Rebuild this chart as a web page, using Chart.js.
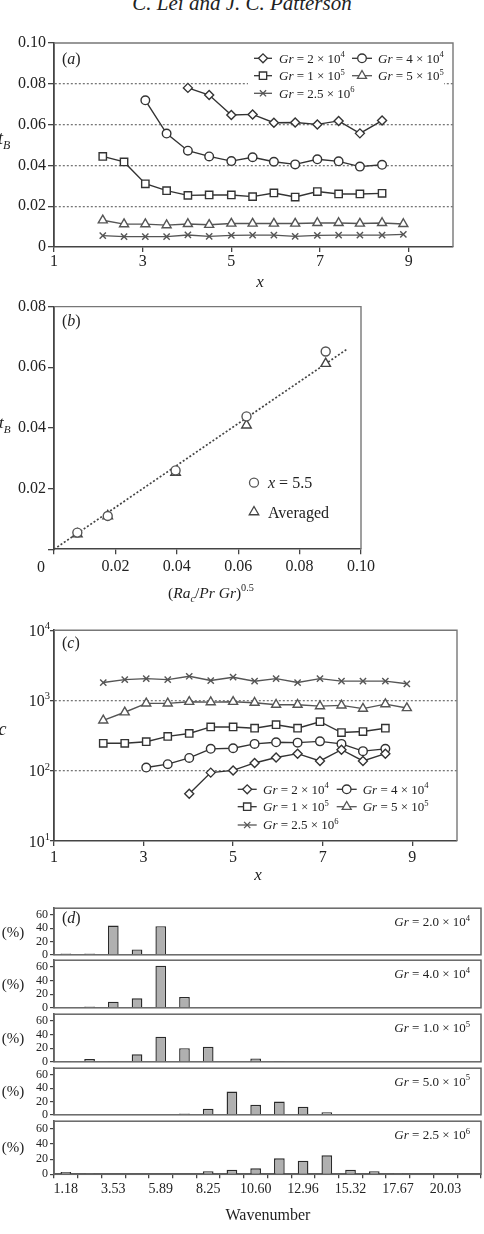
<!DOCTYPE html>
<html>
<head>
<meta charset="utf-8">
<script src="https://cdn.jsdelivr.net/npm/chart.js@4.4.1/dist/chart.umd.min.js"></script>
<style>
html, body { margin: 0; padding: 0; background: #fff; }
body { position: relative; width: 484px; height: 1234px; overflow: hidden; }
#hdr { position: absolute; left: 0; top: -7px; width: 484px; text-align: center; font: italic 21px "Liberation Serif", serif; line-height: 21px; color: #222; }
canvas { position: absolute; left: 0; }
</style>
</head>
<body>
<div id="hdr">C. Lei and J. C. Patterson</div>
<script>
// ---------- data ----------
// streamwise positions shared by panels (a) and (c)
const xPos = [2.1, 2.58, 3.06, 3.54, 4.02, 4.5, 5.0, 5.48, 5.96, 6.44, 6.94, 7.42, 7.9, 8.4, 8.88];

// (a) t_B
const tB_gr2e4  = [null, null, null, null, 0.078, 0.0745, 0.0647, 0.065, 0.0609, 0.061, 0.0601, 0.0618, 0.0557, 0.062, null];
const tB_gr4e4  = [null, null, 0.0719, 0.0556, 0.0472, 0.0444, 0.0421, 0.044, 0.0418, 0.0405, 0.043, 0.042, 0.0394, 0.0403, null];
const tB_gr1e5  = [0.0444, 0.0417, 0.031, 0.0276, 0.0253, 0.0255, 0.0255, 0.0247, 0.0265, 0.0245, 0.0272, 0.026, 0.026, 0.0263, null];
const tB_gr5e5  = [0.0131, 0.0112, 0.0112, 0.0107, 0.0113, 0.0109, 0.0115, 0.0115, 0.0115, 0.0115, 0.0118, 0.0118, 0.0115, 0.0118, 0.0113];
const tB_gr25e6 = [0.0056, 0.0051, 0.0051, 0.0051, 0.0059, 0.0052, 0.0057, 0.0058, 0.0058, 0.0052, 0.0057, 0.0058, 0.0058, 0.0058, 0.0062];

// (b) t_B against (Ra_c/Pr Gr)^0.5
const bX     = [0.0076, 0.0175, 0.0396, 0.0627, 0.0885];
const tB_x55 = [0.0055, 0.011, 0.026, 0.0438, 0.0652];
const tB_avg = [0.005, 0.011, 0.0253, 0.0409, 0.0612];
const fitX   = [0, 0.0955];
const fitY   = [0, 0.066];

// (c) c (log)
const c_gr2e4  = [null, null, null, null, 47, 94, 101, 129, 154, 175, 138, 199, 138, 175, null];
const c_gr4e4  = [null, null, 111, 124, 152, 205, 209, 241, 254, 251, 262, 241, 190, 205, null];
const c_gr1e5  = [246, 246, 259, 308, 339, 420, 420, 403, 452, 403, 498, 350, 361, 403, null];
const c_gr5e5  = [521, 680, 908, 908, 959, 947, 959, 929, 871, 871, 832, 851, 766, 888, 781];
const c_gr25e6 = [1800, 1982, 2047, 1982, 2210, 1920, 2142, 1882, 2047, 1800, 2047, 1882, 1882, 1882, 1727];

// (d) wavenumber histograms (%)
const wavenumbers = ['1.18', '2.36', '3.53', '4.71', '5.89', '7.07', '8.25', '9.42', '10.60', '11.78', '12.96', '14.14', '15.32', '16.49', '17.67', '18.85', '20.03', '21.20'];
const pct_gr2e4  = [2, 2, 44, 8, 43, 0, 0, 0, 0, 0, 0, 0, 0, 0, 0, 0, 0, 0];
const pct_gr4e4  = [0, 2, 9, 14, 62, 16, 0, 0, 0, 0, 0, 0, 0, 0, 0, 0, 0, 0];
const pct_gr1e5  = [1, 4, 1, 11, 37, 20, 22, 0, 5, 1, 0, 0, 0, 0, 0, 0, 0, 0];
const pct_gr5e5  = [0, 0, 0, 0, 0, 2, 9, 35, 15, 20, 12, 4, 0, 0, 0, 0, 0, 0];
const pct_gr25e6 = [3, 1, 0, 0, 0, 0, 4, 6, 8, 21, 18, 25, 6, 4, 1, 0, 0, 0];

// tick values
const ticksA_x = [1, 3, 5, 7, 9];
const ticksA_y = [0, 0.02, 0.04, 0.06, 0.08, 0.1];
const ticksB_x = [0, 0.02, 0.04, 0.06, 0.08, 0.1];
const ticksB_y = [0, 0.02, 0.04, 0.06, 0.08];
const ticksC_y = [10, 100, 1000, 10000];
const ticksD_y = [0, 20, 40, 60];

// legend / annotation text
const grLabels = [
    [['Gr', 'i'], [' = 2 × 10'], ['4', '^']],
    [['Gr', 'i'], [' = 4 × 10'], ['4', '^']],
    [['Gr', 'i'], [' = 1 × 10'], ['5', '^']],
    [['Gr', 'i'], [' = 5 × 10'], ['5', '^']],
    [['Gr', 'i'], [' = 2.5 × 10'], ['6', '^']]
];
const grLabelsD = [
    [['Gr', 'i'], [' = 2.0 × 10'], ['4', '^']],
    [['Gr', 'i'], [' = 4.0 × 10'], ['4', '^']],
    [['Gr', 'i'], [' = 1.0 × 10'], ['5', '^']],
    [['Gr', 'i'], [' = 5.0 × 10'], ['5', '^']],
    [['Gr', 'i'], [' = 2.5 × 10'], ['6', '^']]
];

// ---------- helpers ----------
const SERIF = '"Liberation Serif", "DejaVu Serif", serif';
Chart.defaults.font.family = SERIF;
Chart.defaults.color = '#222';
Chart.defaults.animation = false;
Chart.defaults.plugins.legend.display = false;
Chart.defaults.plugins.tooltip.enabled = false;

function fnt(size, italic) {
    return (italic ? 'italic ' : '') + size + 'px ' + SERIF;
}

// parts: [text, flags] with flags 'i' italic, '^' superscript, '_' subscript
function rich(ctx, x, y, parts, size, align) {
    ctx.save();
    ctx.textAlign = 'left';
    ctx.textBaseline = 'alphabetic';
    ctx.fillStyle = '#222';
    const seg = parts.map(p => {
        const f = p[1] || '';
        const small = f.includes('^') || f.includes('_');
        const font = fnt(small ? size * 0.66 : size, f.includes('i'));
        ctx.font = font;
        return {
            t: p[0], font: font, w: ctx.measureText(p[0]).width,
            dy: f.includes('^') ? -size * 0.42 : (f.includes('_') ? size * 0.28 : 0)
        };
    });
    const total = seg.reduce((a, s) => a + s.w, 0);
    let cx = align === 'right' ? x - total : (align === 'center' ? x - total / 2 : x);
    seg.forEach(s => {
        ctx.font = s.font;
        ctx.fillText(s.t, cx, y + s.dy);
        cx += s.w;
    });
    ctx.restore();
}

function makeCanvas(top, height) {
    const c = document.createElement('canvas');
    c.width = 484;
    c.height = height;
    c.style.top = top + 'px';
    c.style.width = '484px';
    c.style.height = height + 'px';
    document.body.appendChild(c);
    return c;
}

function frameTR(chart) {
    const { ctx, chartArea: a } = chart;
    ctx.save();
    ctx.strokeStyle = '#777';
    ctx.lineWidth = 1.4;
    ctx.beginPath();
    ctx.moveTo(a.left, a.top);
    ctx.lineTo(a.right, a.top);
    ctx.lineTo(a.right, a.bottom);
    ctx.stroke();
    ctx.restore();
}

function marker(ctx, style, r, color, x, y) {
    ctx.save();
    ctx.fillStyle = '#fff';
    ctx.strokeStyle = color;
    ctx.lineWidth = 1.3;
    Chart.helpers.drawPoint(ctx, { pointStyle: style, radius: r, rotation: 0, borderWidth: 1.3 }, x, y);
    ctx.restore();
}

const styles = [
    { ps: 'rectRot', r: 4.5, color: '#333' },
    { ps: 'circle', r: 4.3, color: '#333' },
    { ps: 'rect', r: 5.2, color: '#333' },
    { ps: 'triangle', r: 5.2, color: '#555' },
    { ps: 'crossRot', r: 4.4, color: '#555' }
];

function series(vals, k) {
    const s = styles[k];
    return {
        data: xPos.map((x, i) => ({ x: x, y: vals[i] })).filter(p => p.y !== null),
        pointStyle: s.ps, pointRadius: s.r,
        pointBackgroundColor: '#fff', pointBorderColor: s.color, pointBorderWidth: 1.4,
        borderColor: s.color, borderWidth: 1.4, tension: 0, fill: false
    };
}

function drawLegend(ctx, T, x1s, x2s, txs, rows, size) {
    grLabels.forEach((lab, i) => {
        const col = i % 2, row = Math.floor(i / 2);
        const y = rows[row] - T;
        const s = styles[i];
        ctx.save();
        ctx.strokeStyle = s.color;
        ctx.lineWidth = 1.3;
        ctx.beginPath();
        ctx.moveTo(x1s[col], y);
        ctx.lineTo(x2s[col], y);
        ctx.stroke();
        ctx.restore();
        marker(ctx, s.ps, s.r, s.color, (x1s[col] + x2s[col]) / 2, y);
        rich(ctx, txs[col], y + size * 0.33, lab, size, 'left');
    });
}

function fixedTicks(vals) {
    return s => { s.ticks = vals.map(v => ({ value: v })); };
}

// ---------- (a) ----------
(function () {
    const T = 30;
    const canvas = makeCanvas(T, 265);
    new Chart(canvas, {
        type: 'line',
        data: { datasets: [series(tB_gr2e4, 0), series(tB_gr4e4, 1), series(tB_gr1e5, 2), series(tB_gr5e5, 3), series(tB_gr25e6, 4)] },
        options: {
            responsive: false, devicePixelRatio: 1,
            layout: { padding: { top: 13, right: 31, left: 0, bottom: 0 } },
            scales: {
                x: {
                    type: 'linear', min: 1, max: 10,
                    afterBuildTicks: fixedTicks(ticksA_x),
                    afterFit: s => { s.height = 48; },
                    ticks: { font: { size: 16 }, padding: 0, maxRotation: 0, autoSkip: false },
                    grid: { drawOnChartArea: false, tickLength: 5, tickColor: '#444', lineWidth: 1.3 },
                    border: { color: '#444', width: 1.6 }
                },
                y: {
                    type: 'linear', min: 0, max: 0.1,
                    afterBuildTicks: fixedTicks(ticksA_y),
                    afterFit: s => { s.width = 54; },
                    ticks: { font: { size: 16 }, padding: 2, autoSkip: false, callback: v => v === 0 ? '0' : v.toFixed(2) },
                    grid: {
                        color: c => (c.tick && c.tick.value > 0.001 && c.tick.value < 0.099) ? '#777' : 'rgba(0,0,0,0)',
                        lineWidth: 1.3, tickLength: 6, tickColor: '#444'
                    },
                    border: { color: '#444', width: 1.8, dash: [2, 2] }
                }
            }
        },
        plugins: [{
            id: 'decoA',
            beforeDatasetsDraw(chart) {
                frameTR(chart);
                const ctx = chart.ctx;
                ctx.save();
                ctx.fillStyle = '#fff';
                ctx.fillRect(248, 48 - T, 196, 54);
                ctx.restore();
            },
            afterDraw(chart) {
                const ctx = chart.ctx;
                rich(ctx, 62, 64 - T, [['('], ['a', 'i'], [')']], 16, 'left');
                rich(ctx, -2, 144 - T, [['t', 'i'], ['B', '_i']], 18, 'left');
                rich(ctx, 260, 287 - T, [['x', 'i']], 17, 'center');
                drawLegend(ctx, T, [254, 352], [272, 372], [279, 378], [58.3, 75.7, 93.3], 13);
            }
        }]
    });
})();

// ---------- (b) ----------
(function () {
    const T = 295;
    const canvas = makeCanvas(T, 310);
    new Chart(canvas, {
        type: 'line',
        data: {
            datasets: [
                {
                    data: bX.map((x, i) => ({ x: x, y: tB_x55[i] })), showLine: false,
                    pointStyle: 'circle', pointRadius: 4.5, pointBackgroundColor: '#fff',
                    pointBorderColor: '#555', pointBorderWidth: 1.4, order: 1
                },
                {
                    data: bX.map((x, i) => ({ x: x, y: tB_avg[i] })), showLine: false,
                    pointStyle: 'triangle', pointRadius: 5.5, pointBackgroundColor: '#fff',
                    pointBorderColor: '#444', pointBorderWidth: 1.4, order: 1
                },
                {
                    data: fitX.map((x, i) => ({ x: x, y: fitY[i] })),
                    borderColor: '#444', borderWidth: 1.7, borderDash: [2, 2], pointRadius: 0, order: 3
                }
            ]
        },
        options: {
            responsive: false, devicePixelRatio: 1,
            layout: { padding: { top: 10.7, right: 123, left: 0, bottom: 0 } },
            scales: {
                x: {
                    type: 'linear', min: 0, max: 0.1,
                    afterBuildTicks: fixedTicks(ticksB_x),
                    afterFit: s => { s.height = 55.7; },
                    ticks: { font: { size: 16 }, padding: 3, maxRotation: 0, autoSkip: false, callback: v => v === 0 ? '' : v.toFixed(2) },
                    grid: { drawOnChartArea: false, tickLength: 5, tickColor: '#444', lineWidth: 1.3 },
                    border: { color: '#444', width: 1.6 }
                },
                y: {
                    type: 'linear', min: 0, max: 0.08,
                    afterBuildTicks: fixedTicks(ticksB_y),
                    afterFit: s => { s.width = 54; },
                    ticks: { font: { size: 16 }, padding: 2, autoSkip: false, callback: v => v === 0 ? '' : v.toFixed(2) },
                    grid: { drawOnChartArea: false, tickLength: 6, tickColor: '#444', lineWidth: 1.3 },
                    border: { color: '#444', width: 1.8 }
                }
            }
        },
        plugins: [{
            id: 'decoB',
            beforeDatasetsDraw(chart) { frameTR(chart); },
            afterDraw(chart) {
                const ctx = chart.ctx;
                rich(ctx, 62, 326 - T, [['('], ['b', 'i'], [')']], 16, 'left');
                rich(ctx, -1, 428 - T, [['t', 'i'], ['B', '_i']], 17, 'left');
                rich(ctx, 41, 571.5 - T, [['0']], 16, 'center');
                rich(ctx, 211, 598 - T, [['('], ['Ra', 'i'], ['c', '_i'], ['/'], ['Pr Gr', 'i'], [')'], ['0.5', '^']], 15.5, 'center');
                marker(ctx, 'circle', 4.5, '#555', 254, 482.7 - T);
                rich(ctx, 268, 488 - T, [['x', 'i'], [' = 5.5']], 16, 'left');
                marker(ctx, 'triangle', 5.5, '#444', 254, 512 - T);
                rich(ctx, 268, 517.5 - T, [['Averaged']], 16, 'left');
            }
        }]
    });
})();

// ---------- (c) ----------
(function () {
    const T = 620;
    const canvas = makeCanvas(T, 265);
    new Chart(canvas, {
        type: 'line',
        data: { datasets: [series(c_gr2e4, 0), series(c_gr4e4, 1), series(c_gr1e5, 2), series(c_gr5e5, 3), series(c_gr25e6, 4)] },
        options: {
            responsive: false, devicePixelRatio: 1,
            layout: { padding: { top: 8.3, right: 27, left: 0, bottom: 0 } },
            scales: {
                x: {
                    type: 'linear', min: 1, max: 10,
                    afterBuildTicks: fixedTicks(ticksA_x),
                    afterFit: s => { s.height = 44; },
                    ticks: { font: { size: 16 }, padding: 2, maxRotation: 0, autoSkip: false },
                    grid: { drawOnChartArea: false, tickLength: 5, tickColor: '#444', lineWidth: 1.3 },
                    border: { color: '#444', width: 1.6 }
                },
                y: {
                    type: 'logarithmic', min: 10, max: 10000,
                    afterBuildTicks: fixedTicks(ticksC_y),
                    afterFit: s => { s.width = 54; },
                    ticks: { autoSkip: false, callback: () => '' },
                    grid: {
                        color: c => (c.tick && (c.tick.value === 100 || c.tick.value === 1000)) ? '#777' : 'rgba(0,0,0,0)',
                        lineWidth: 1.3, tickLength: 4, tickColor: '#444'
                    },
                    border: { color: '#444', width: 1.8, dash: [2, 2] }
                }
            }
        },
        plugins: [{
            id: 'decoC',
            beforeDatasetsDraw(chart) { frameTR(chart); },
            afterDraw(chart) {
                const ctx = chart.ctx;
                const ys = chart.scales.y;
                ticksC_y.forEach(v => {
                    const y = ys.getPixelForValue(v);
                    rich(ctx, 50, y + 5.5, [['10'], [String(Math.round(Math.log10(v))), '^']], 16, 'right');
                });
                rich(ctx, 62, 648 - T, [['('], ['c', 'i'], [')']], 16, 'left');
                rich(ctx, -1.5, 735 - T, [['c', 'i']], 18, 'left');
                rich(ctx, 258, 880 - T, [['x', 'i']], 17, 'center');
                drawLegend(ctx, T, [237.7, 336.7], [256.7, 356.7], [263, 362.7], [789.3, 806.7, 825], 13);
            }
        }]
    });
})();

// ---------- (d) ----------
const dPanels = [
    { data: pct_gr2e4, top: 907.3, bottom: 955.7 },
    { data: pct_gr4e4, top: 959.3, bottom: 1009 },
    { data: pct_gr1e5, top: 1013.3, bottom: 1062.7 },
    { data: pct_gr5e5, top: 1066.7, bottom: 1116 },
    { data: pct_gr25e6, top: 1120, bottom: 1174.3 }
];

dPanels.forEach((p, k) => {
    const last = k === dPanels.length - 1;
    const T = Math.round(p.top - 8);
    const h = last ? 1234 - T : Math.ceil(p.bottom - T + 8);
    const canvas = makeCanvas(T, h);
    new Chart(canvas, {
        type: 'bar',
        data: {
            labels: wavenumbers,
            datasets: [{
                data: p.data, backgroundColor: '#b0b0b0', borderColor: '#2a2a2a', borderWidth: 1.4,
                barPercentage: 0.9, categoryPercentage: 0.5
            }]
        },
        options: {
            responsive: false, devicePixelRatio: 1,
            layout: { padding: { top: p.top - T, right: 3, left: 0, bottom: last ? 0 : h - (p.bottom - T) } },
            scales: {
                x: {
                    display: last,
                    afterFit: s => { if (last) s.height = 1234 - p.bottom; },
                    ticks: { font: { size: 14 }, padding: 3, maxRotation: 0, autoSkip: false, callback: (v, i) => i % 2 === 0 ? wavenumbers[i] : '' },
                    grid: { drawOnChartArea: false, tickLength: 4, tickColor: '#444', lineWidth: 1.3 },
                    border: { color: '#555', width: 1.6 }
                },
                y: {
                    min: 0, max: 70,
                    afterBuildTicks: fixedTicks(ticksD_y),
                    afterFit: s => { s.width = 54; },
                    ticks: { font: { size: 12 }, padding: 2, autoSkip: false },
                    grid: { drawOnChartArea: false, tickLength: 4, tickColor: '#444', lineWidth: 1.2 },
                    border: { color: '#555', width: 1.6 }
                }
            }
        },
        plugins: [{
            id: 'decoD' + k,
            beforeDatasetsDraw(chart) {
                const { ctx, chartArea: a } = chart;
                ctx.save();
                ctx.strokeStyle = '#666';
                ctx.lineWidth = 1.5;
                ctx.strokeRect(a.left, a.top, a.right - a.left, a.bottom - a.top);
                ctx.restore();
            },
            afterDraw(chart) {
                const ctx = chart.ctx;
                rich(ctx, 470, p.top + 19 - T, grLabelsD[k], 13, 'right');
                rich(ctx, 13, (p.top + p.bottom) / 2 + 5 - T, [['(%)']], 15, 'center');
                if (k === 0) rich(ctx, 62, 923 - T, [['('], ['d', 'i'], [')']], 16, 'left');
                if (last) rich(ctx, 268, 1220 - T, [['Wavenumber']], 16, 'center');
            }
        }]
    });
});
</script>
</body>
</html>
